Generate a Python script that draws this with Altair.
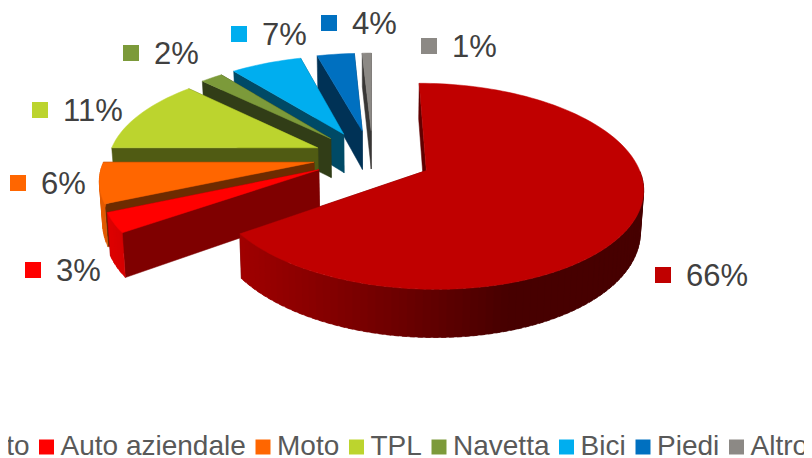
import math
import altair as alt
import pandas as pd

alt.data_transformers.disable_max_rows()

# --- chart values -----------------------------------------------------
categories = ["Auto", "Auto aziendale", "Moto", "TPL", "Navetta", "Bici", "Piedi", "Altro"]
shares = [66, 3, 6, 11, 2, 7, 4, 1]
colors = ["#C00000", "#FF0000", "#FF6600", "#BCD42E", "#7C9A3A", "#00AEEF", "#0070C0", "#8C8985"]

# --- placement of the data labels (key square, page pixels) -------------
key_x = [663, 33, 18, 40, 131, 239, 329, 429]
key_y = [275, 270, 183, 110, 53, 34, 23, 46]

# --- 3-D look of the exploded pie ---------------------------------------
CX, CY = 373.0, 157.0
AX, BY = 209.0, 96.5
PERSP = 0.15
EXPLODE = 0.285
DEPTH = 40.0
WARP_BACK = 0.08
WARP_FRONT = 0.05
wall_shade = [0.5, 0.5, 0.43, 0.43, 0.4, 0.43, 0.45, 0.4]


def project(px, py, z=0.0):
    w = 1 + PERSP * py
    shrink = 1 - 0.012 * z
    return CX + AX * px / w * shrink, CY - BY * py / w + DEPTH * z / w


def shade(hex_color, f):
    r, g, b = (int(hex_color[i:i + 2], 16) for i in (1, 3, 5))
    return "#%02x%02x%02x" % (int(r * f), int(g * f), int(b * f))


rows = []
piece_id = 0


def add_piece(points, color):
    global piece_id
    piece_id += 1
    for n, (x, y) in enumerate(points):
        rows.append({"x": x, "y": y, "vertex": n, "piece": piece_id, "paint": color})


slices = []
acc = 0.0
total = sum(shares)
for i, share in enumerate(shares):
    t0 = acc / total * 2 * math.pi
    acc += share
    t1 = acc / total * 2 * math.pi
    mid = (t0 + t1) / 2
    slices.append((i, t0, t1, EXPLODE * math.sin(mid), EXPLODE * math.cos(mid)))

# painter's order: back slices first, the big front slice last
order = [7, 6, 5, 4, 3, 2, 1, 0]
for i, t0, t1, ox, oy in (slices[k] for k in order):
    base = colors[i]
    dark = shade(base, wall_shade[i])

    def rim(t, z=0.0):
        c = WARP_BACK if math.cos(t) > 0 else WARP_FRONT
        u = t - c * math.sin(2 * t)
        return project(ox + math.sin(u), oy + math.cos(u), z)

    apex = project(ox, oy)
    apex_low = project(ox, oy, 1)
    # radial walls
    add_piece([apex, rim(t1), rim(t1, 1), apex_low], dark)
    add_piece([apex, rim(t0), rim(t0, 1), apex_low], dark)
    # outer wall, shaded strip by strip (each strip overlaps the next one)
    steps = max(2, int((t1 - t0) / math.radians(2)))
    for s in range(steps):
        a = t0 + (t1 - t0) * s / steps
        b = t0 + (t1 - t0) * (s + 1) / steps
        if math.cos((a + b) / 2) > -0.02:
            continue
        f = max(0.37, 0.5 - 0.4 * math.sin((a + b) / 2))
        b2 = min(t1, b + (b - a) * 0.6)
        add_piece([rim(a), rim(b2), rim(b2, 1), rim(a, 1)], shade(base, f))
    # top face
    arc = [rim(t0 + (t1 - t0) * s / steps) for s in range(steps + 1)]
    add_piece([apex] + arc, base)

poly = pd.DataFrame(rows)
labels = pd.DataFrame({
    "cat": categories,
    "txt": [f"{s}%" for s in shares],
    "kx": key_x,
    "ky": key_y,
    "tx": [k + 23 for k in key_x],
})

X = alt.Scale(domain=[8, 804], range=[0, 796])
Y = alt.Scale(domain=[8, 458], range=[0, 450])

faces = alt.Chart(poly).mark_line(interpolate="linear-closed", strokeWidth=0.5, clip=False).encode(
    x=alt.X("x:Q", scale=X, axis=None),
    y=alt.Y("y:Q", scale=Y, axis=None),
    detail="piece:N",
    order=alt.Order("vertex:Q"),
    fill=alt.Fill("paint:N", scale=None, legend=None),
    stroke=alt.Stroke("paint:N", scale=None, legend=None),
)

keys = alt.Chart(labels).mark_square(size=256, opacity=1, strokeWidth=0).encode(
    x=alt.X("kx:Q", scale=X, axis=None),
    y=alt.Y("ky:Q", scale=Y, axis=None),
    color=alt.Color(
        "cat:N",
        scale=alt.Scale(domain=categories, range=colors),
        sort=categories,
        legend=alt.Legend(
            title=None,
            orient="none",
            legendX=-64,
            legendY=425,
            direction="horizontal",
            columns=8,
            symbolType="square",
            symbolSize=225,
            symbolStrokeWidth=0,
            symbolOpacity=1,
            labelFont="Liberation Sans",
            labelFontSize=28,
            labelColor="#595959",
            labelLimit=400,
            labelOffset=0,
            columnPadding=2.5,
            padding=0,
        ),
    ),
)

texts = alt.Chart(labels).mark_text(
    align="left", baseline="middle", font="Liberation Sans", fontSize=31, color="#404040", dy=1.5
).encode(
    x=alt.X("tx:Q", scale=X, axis=None),
    y=alt.Y("ky:Q", scale=Y, axis=None),
    text="txt:N",
)

chart = alt.layer(faces, keys, texts).properties(
    width=796,
    height=450,
    autosize=alt.AutoSizeParams(type="none"),
    padding=0,
    background="white",
).configure_view(stroke=None)

chart.save("out.html", embed_options={"renderer": "svg", "actions": False})
